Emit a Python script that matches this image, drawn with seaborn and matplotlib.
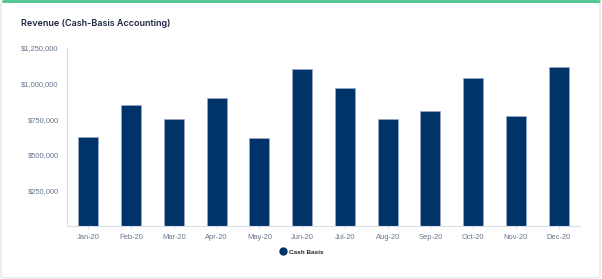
import matplotlib
matplotlib.use("Agg")
import matplotlib.pyplot as plt
import seaborn as sns
import pandas as pd
from matplotlib.patches import FancyBboxPatch
from matplotlib.lines import Line2D
from matplotlib.ticker import FuncFormatter

months = ["Jan-20", "Feb-20", "Mar-20", "Apr-20", "May-20", "Jun-20",
          "Jul-20", "Aug-20", "Sep-20", "Oct-20", "Nov-20", "Dec-20"]
cash_basis = [625000, 850000, 750000, 900000, 620000, 1100000,
              970000, 750000, 810000, 1040000, 770000, 1120000]
y_ticks = [250000, 500000, 750000, 1000000, 1250000]
series_name = "Cash Basis"
title = "Revenue (Cash-Basis Accounting)"

df = pd.DataFrame({"month": months, "value": cash_basis})

sns.set_theme(style="white")
plt.rcParams["font.family"] = ["Liberation Sans", "DejaVu Sans"]

W, H = 602, 279
fig = plt.figure(figsize=(W / 100, H / 100), dpi=100)
fig.patch.set_facecolor("white")

# card border and green top stripe
card = FancyBboxPatch((1 / W, 1 / H), (W - 3) / W, (H - 3) / H,
                      boxstyle="round,pad=0,rounding_size=0.008",
                      transform=fig.transFigure, facecolor="white",
                      edgecolor="#e6e8ec", linewidth=1.0, zorder=-10)
fig.patches.append(card)
fig.add_artist(Line2D([0.005, 0.995], [1 - 1 / H, 1 - 1 / H], transform=fig.transFigure,
                      color="#4cc38a", linewidth=2.0))

ax = fig.add_axes([67 / W, 1 - 226 / H, (580 - 67) / W, (226 - 48) / H])
ax.set_zorder(5)
ax.patch.set_alpha(0)
navy = "#00336a"
sns.barplot(data=df, x="month", y="value", color=navy, width=0.47,
            edgecolor="#9aa8c4", linewidth=0.6, saturation=1, ax=ax)

ax.set_xlim(-0.5, len(months) - 0.5)
ax.set_ylim(0, 1250000)
ax.set_yticks(y_ticks)
ax.yaxis.set_major_formatter(FuncFormatter(lambda v, p: f"${v:,.0f}"))
ax.set_xlabel("")
ax.set_ylabel("")
ax.tick_params(axis="y", labelsize=5.4, colors="#66758c", length=0, pad=6)
ax.tick_params(axis="x", labelsize=5.4, colors="#66758c", length=3, width=0.6,
               pad=3, direction="out", bottom=True, color="#d8dde8")
for s in ["top", "right"]:
    ax.spines[s].set_visible(False)
ax.spines["left"].set_color("#d8dde8")
ax.spines["bottom"].set_color("#d8dde8")
ax.spines["left"].set_linewidth(0.8)
ax.spines["bottom"].set_linewidth(0.8)
ax.grid(False)

fig.text(21 / W, 1 - 24 / H, title, fontsize=6.5, fontweight="semibold",
         color="#1c2640", va="center", ha="left", family=["Inter", "DejaVu Sans"])

handle = Line2D([], [], marker="o", linestyle="", color=navy, markersize=5)
fig.legend([handle], [series_name], loc="center", bbox_to_anchor=(302 / W, 1 - 252 / H),
           frameon=False, handletextpad=0.5, handlelength=1,
           prop={"weight": "bold", "size": 4.6})

fig.savefig("out.png", dpi=100, facecolor="white")
